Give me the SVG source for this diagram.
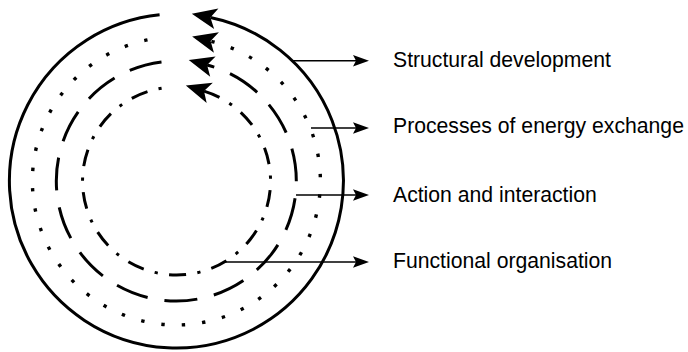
<svg xmlns="http://www.w3.org/2000/svg" width="688" height="352" viewBox="0 0 688 352">
  <defs>
    <style>
      .ring { fill: none; stroke: #000; stroke-width: 3; stroke-linecap: butt; }
      .dotted { stroke-width: 3.4; stroke-dasharray: 3.4 17; }
      .dashed { stroke-dasharray: 33 17; }
      .dashdot { stroke-dasharray: 3.2 11.4 17 11.4; }
      .conn { fill: none; stroke: #000; stroke-width: 1.5; }
      .label { font-family: "Liberation Sans", Arial, sans-serif; font-size: 21.2px; fill: #000; }
    </style>
    <!-- large notched head for the ring ends -->
    <marker id="ringHead" markerUnits="userSpaceOnUse" viewBox="-8 -12 28 24" markerWidth="28" markerHeight="24" refX="0" refY="0" orient="auto" overflow="visible">
      <path d="M-6,-10.5 L19,0 L-6,10.5 L0,0 Z" fill="#000"/>
    </marker>
    <!-- small head for the label pointers -->
    <marker id="connHead" markerUnits="userSpaceOnUse" viewBox="-4 -7 18 14" markerWidth="18" markerHeight="14" refX="0" refY="0" orient="auto" overflow="visible">
      <path d="M-3,-5.8 L13,0 L-3,5.8 L0,0 Z" fill="#000"/>
    </marker>
  </defs>

  <!-- concentric rings, each running counter-clockwise to an arrowhead at the top -->
  <g id="ring-structural">
    <path class="ring" d="M159.6,14.85 A167,167 0 1 0 210.4,17.5" marker-end="url(#ringHead)"/>
  </g>
  <g id="ring-energy">
    <path class="ring dotted" d="M147.5,39.9 A144,144 0 1 0 210.6,41.1" marker-end="url(#ringHead)"/>
  </g>
  <g id="ring-action">
    <path class="ring dashed" d="M161.5,61.9 A120,120 0 1 0 207.1,65.0" marker-end="url(#ringHead)"/>
  </g>
  <g id="ring-functional">
    <path class="ring dashdot" d="M161.6,88.2 A94,94 0 1 0 204.0,91.1" marker-end="url(#ringHead)"/>
  </g>

  <!-- pointers from each ring to its label -->
  <g id="connectors">
    <line class="conn" x1="293" y1="60.7" x2="356" y2="60.7" marker-end="url(#connHead)"/>
    <line class="conn" x1="311" y1="128" x2="356" y2="128" marker-end="url(#connHead)"/>
    <line class="conn" x1="296" y1="195" x2="356" y2="195" marker-end="url(#connHead)"/>
    <line class="conn" x1="225" y1="262" x2="356" y2="262" marker-end="url(#connHead)"/>
  </g>

  <!-- labels -->
  <g id="label-structural">
    <text class="label" x="393" y="66.7">Structural development</text>
  </g>
  <g id="label-energy">
    <text class="label" x="393" y="132.7">Processes of energy exchange</text>
  </g>
  <g id="label-action">
    <text class="label" x="393" y="201.7">Action and interaction</text>
  </g>
  <g id="label-functional">
    <text class="label" x="393" y="267.7">Functional organisation</text>
  </g>
</svg>
